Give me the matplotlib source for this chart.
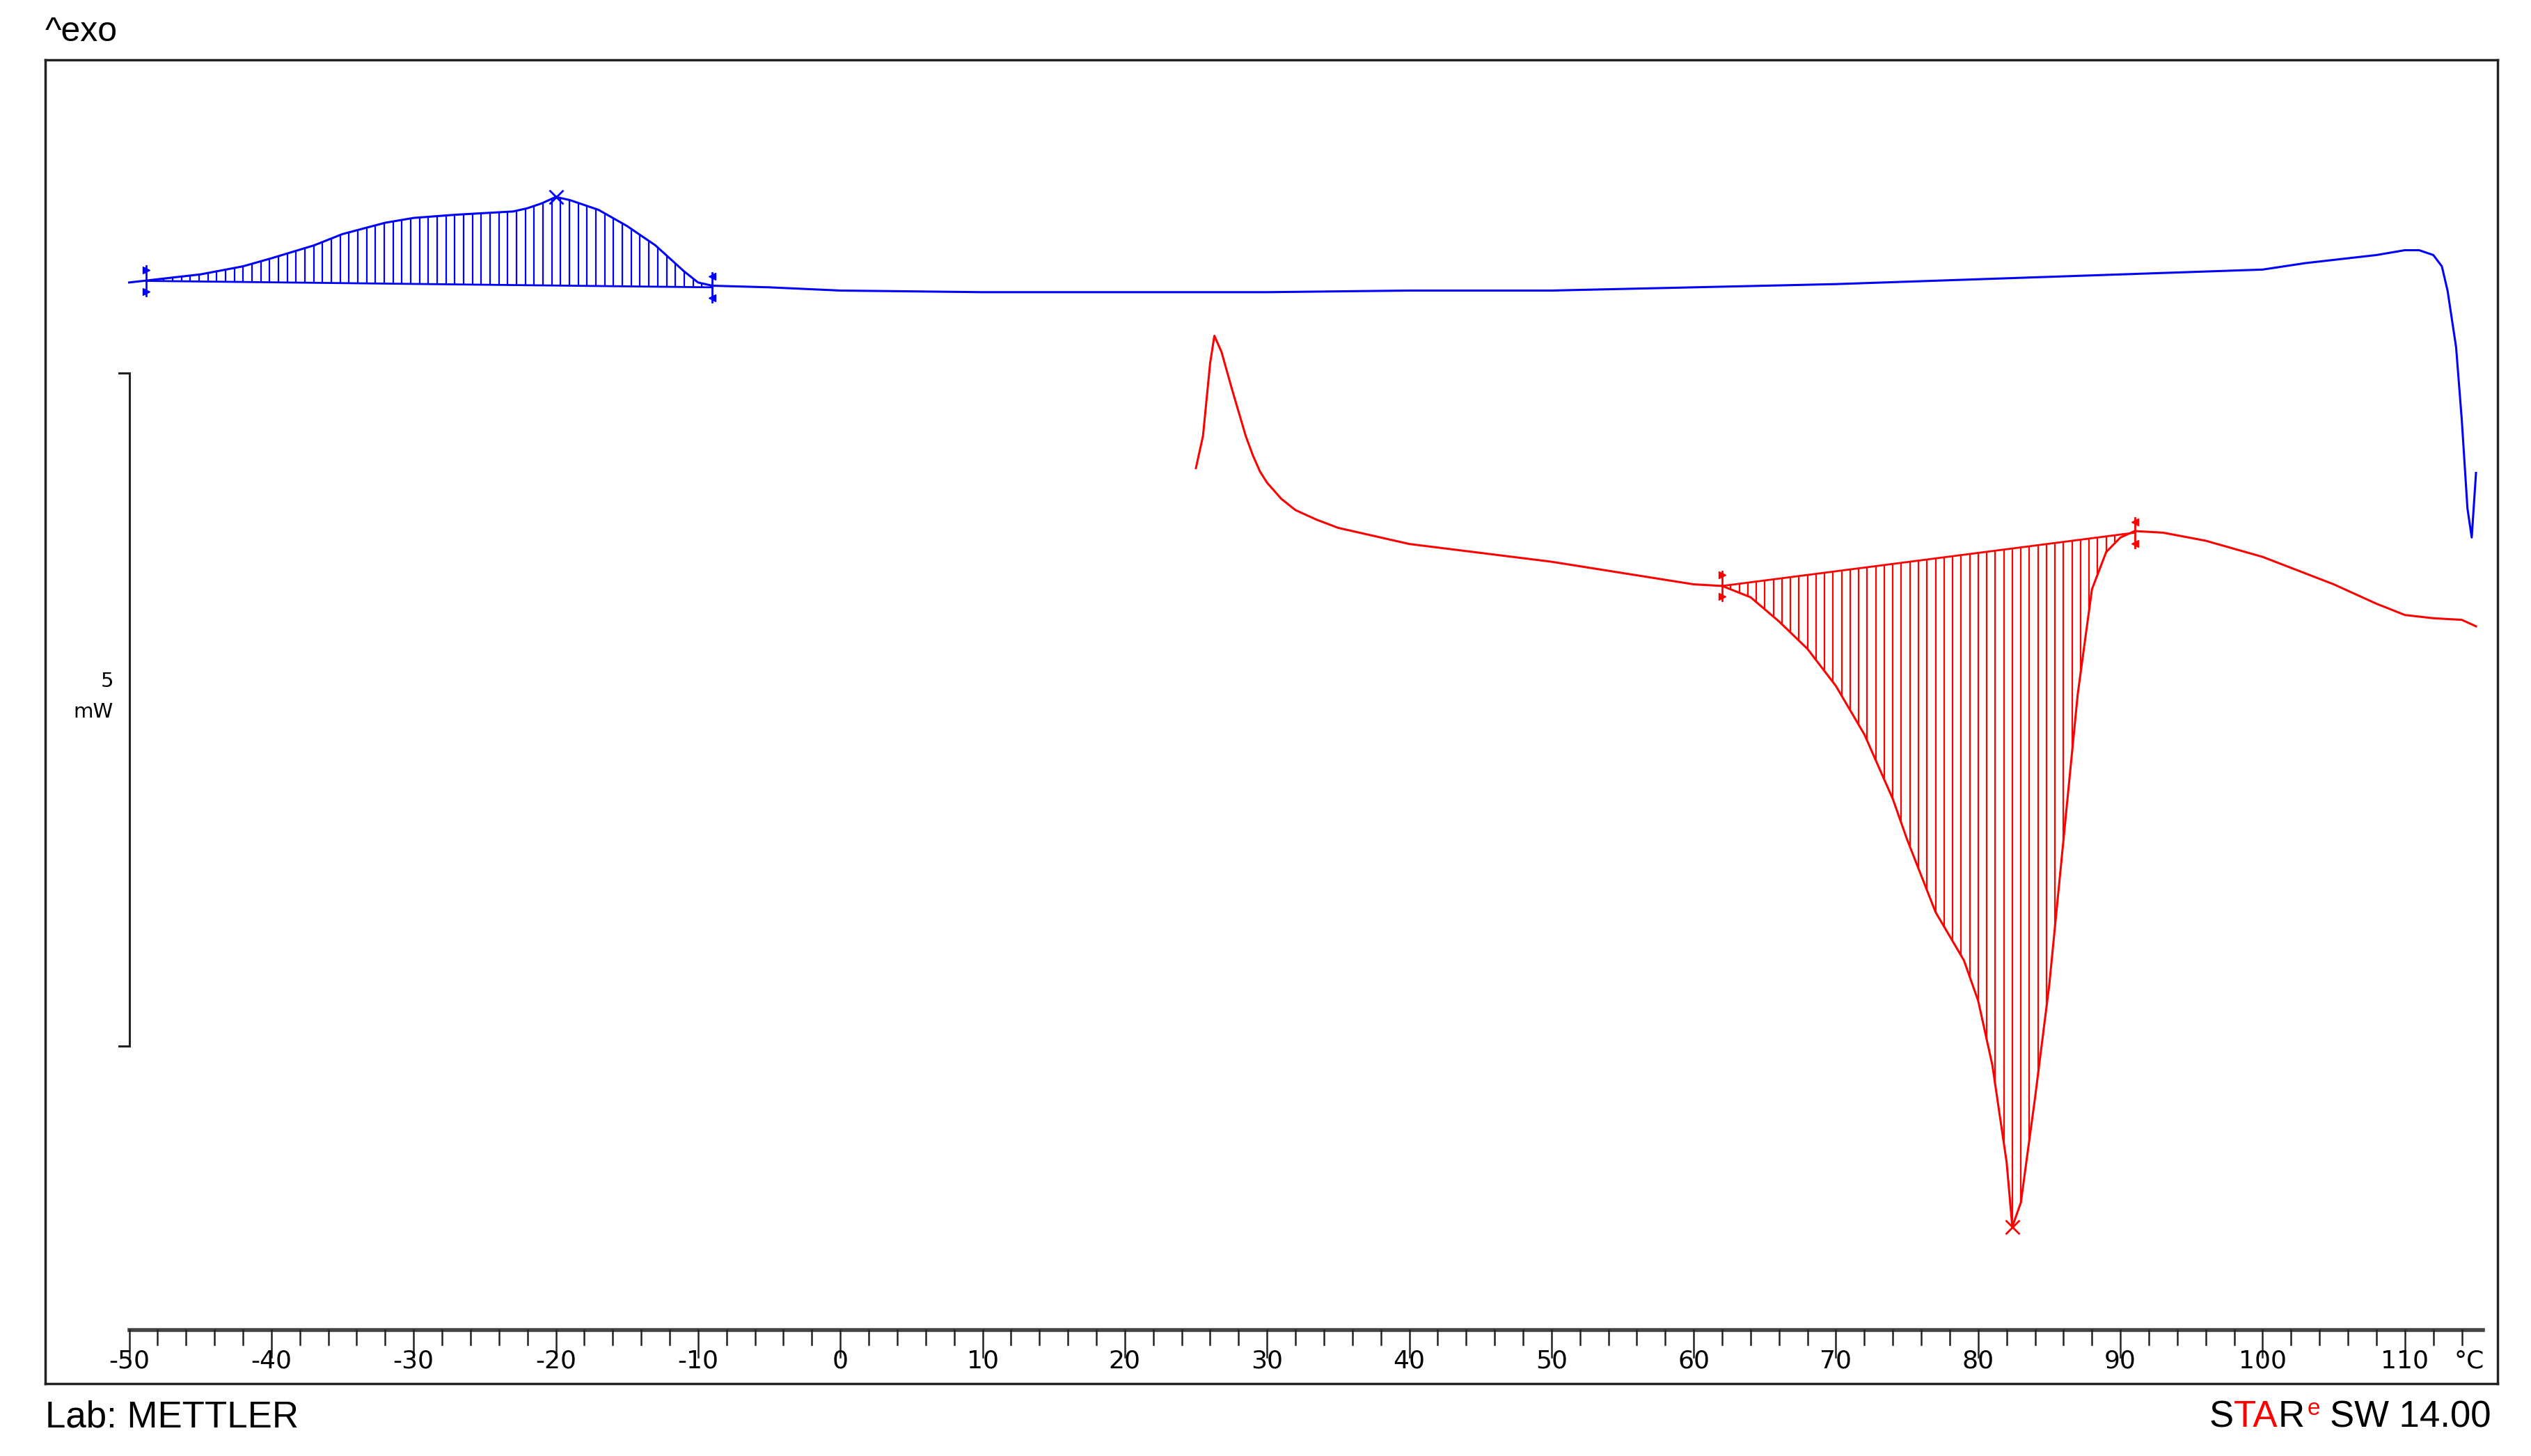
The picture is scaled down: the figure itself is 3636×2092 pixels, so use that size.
import numpy as np
import matplotlib
matplotlib.use("Agg")
import matplotlib.pyplot as plt

PX = 83.4  # ref display px per mW
S = 2092 / 902  # ref display -> output px
def mw(p): return (175 - np.asarray(p, float)) / PX

blue_T = [-50, -49, -47, -45, -42, -40, -37, -35, -32, -30, -27, -25, -23, -22, -21, -20, -19, -17, -15, -13, -12, -11, -10, -9, -5, 0, 10, 20, 30, 40, 50, 60, 70, 80, 90, 100, 103, 105, 108, 110, 111, 112, 112.6, 113, 113.6, 114, 114.4, 114.7, 115]
blue_px = [175, 174, 172, 170, 165, 160, 152, 145, 138, 135, 133, 132, 131, 129, 126, 122, 124, 130, 140, 152, 160, 168, 175, 177, 178, 180, 181, 181, 181, 180, 180, 178, 176, 173, 170, 167, 163, 161, 158, 155, 155, 158, 165, 180, 215, 260, 315, 333, 293]
red_T = [25, 25.5, 26, 26.3, 26.8, 27.5, 28, 28.5, 29, 29.5, 30, 31, 32, 33.5, 35, 40, 50, 60, 62, 64, 66, 68, 70, 72, 74, 75, 77, 79, 80, 81, 82, 82.4, 83, 84, 85, 86, 87, 88, 89, 90, 91, 93, 96, 100, 105, 108, 110, 112, 114, 115]
red_px = [290, 270, 225, 208, 218, 240, 255, 270, 282, 292, 299, 309, 316, 322, 327, 337, 348, 362, 363, 370, 385, 402, 425, 455, 495, 520, 565, 595, 620, 660, 720, 760, 745, 680, 610, 520, 430, 365, 342, 333, 329, 330, 335, 345, 362, 374, 381, 383, 384, 388]
blue_base_T = [-48.8, -9.0]
blue_base_px = [174, 178]
red_base_T = [62.0, 91.0]
red_base_px = [363, 330]
blue_peak = (-20.0, 122)
red_peak = (82.4, 760)

BLUE = "#0000ff"
RED = "#ff0000"

fig = plt.figure(figsize=(36.36, 20.92), dpi=100)
L, R, T_, B = 28*S, 1547*S, 37*S, 857*S
ax = fig.add_axes([L/3636, 1 - B/2092, (R-L)/3636, (B-T_)/2092])
x0 = (28-80)/88.1*10 - 50
x1 = (1547-80)/88.1*10 - 50
ax.set_xlim(x0, x1)
ax.set_ylim(mw(857), mw(37))
ax.set_xticks([]); ax.set_yticks([])
for s in ax.spines.values():
    s.set_linewidth(2.5); s.set_color("#222222")

bT = np.array(blue_T); bY = mw(blue_px)
rT = np.array(red_T); rY = mw(red_px)
ax.plot(bT, bY, color=BLUE, lw=2.2)
ax.plot(rT, rY, color=RED, lw=2.2)

bbY = mw(blue_base_px); rbY = mw(red_base_px)
ax.plot(blue_base_T, bbY, color=BLUE, lw=2.0)
ax.plot(red_base_T, rbY, color=RED, lw=2.0)
hx = np.arange(blue_base_T[0], blue_base_T[1], 0.62)
ax.vlines(hx, np.interp(hx, blue_base_T, bbY), np.interp(hx, bT, bY), color=BLUE, lw=1.6)
hx = np.arange(red_base_T[0], red_base_T[1], 0.6)
ax.vlines(hx, np.interp(hx, rT, rY), np.interp(hx, red_base_T, rbY), color=RED, lw=1.6)

for T, Y, c, side in [(blue_base_T[0], bbY[0], BLUE, 1), (blue_base_T[1], bbY[1], BLUE, -1),
                      (red_base_T[0], rbY[0], RED, 1), (red_base_T[1], rbY[1], RED, -1)]:
    m = ">" if side == 1 else "<"
    ax.plot([T, T], [Y - 0.11, Y + 0.11], color=c, lw=2)
    ax.plot([T], [Y + 0.08], marker=m, color=c, ms=7)
    ax.plot([T], [Y - 0.08], marker=m, color=c, ms=7)
ax.plot([blue_peak[0]], [mw(blue_peak[1])], marker="x", color=BLUE, ms=14, mew=2)
ax.plot([red_peak[0]], [mw(red_peak[1])], marker="x", color=RED, ms=14, mew=2)

sx = -50
ax.plot([sx, sx], [mw(231), mw(648)], color="#222222", lw=2.2)
ax.plot([sx - 0.7, sx], [mw(231)]*2, color="#222222", lw=2.2)
ax.plot([sx - 0.7, sx], [mw(648)]*2, color="#222222", lw=2.2)
ax.text(sx - 1.1, mw(422), "5", ha="right", va="center", fontsize=21, family="Liberation Sans Narrow")
ax.text(sx - 1.1, mw(441), "mW", ha="right", va="center", fontsize=21, family="Liberation Sans Narrow")

ya = mw(824)
ax.plot([-50, 115.5], [ya, ya], color="#444444", lw=4)
for t in np.arange(-50, 116, 2):
    major = (t % 10 == 0)
    ax.plot([t, t], [ya, ya - (0.2 if major else 0.11)], color="#222222", lw=1.8)
for t in range(-50, 111, 10):
    ax.text(t, mw(843), str(t), ha="center", va="center", fontsize=26, family="Liberation Sans Narrow")
ax.text(114.5, mw(843), "°C", ha="center", va="center", fontsize=26, family="Liberation Sans Narrow")

fig.text(L/3636, 1 - 20*S/2092, "^exo", fontsize=36, family="Liberation Sans", va="center", ha="left")
fig.text(L/3636, 1 - 878*S/2092, "Lab: METTLER", fontsize=38, family="Liberation Sans", va="center", ha="left")
xr = 1543*S/3636; yr = 1 - 878*S/2092
t = fig.text(xr, yr, "SW 14.00", fontsize=38, family="Liberation Sans", va="center", ha="right")
fig.canvas.draw()
r = fig.canvas.get_renderer()
bb = t.get_window_extent(r)
xx = bb.x0 - 14
parts = [("e", "red", 24, 12), ("R", "black", 38, 0), ("TA", "red", 38, 0), ("S", "black", 38, 0)]
for s, c, fs, dy in parts:
    tt = fig.text(xx/3636, yr + dy/2092, s, fontsize=fs, family="Liberation Sans", va="center", ha="right", color=c)
    xx = tt.get_window_extent(r).x0 - (4 if s == "e" else 0)

fig.savefig("out.png", dpi=100)
